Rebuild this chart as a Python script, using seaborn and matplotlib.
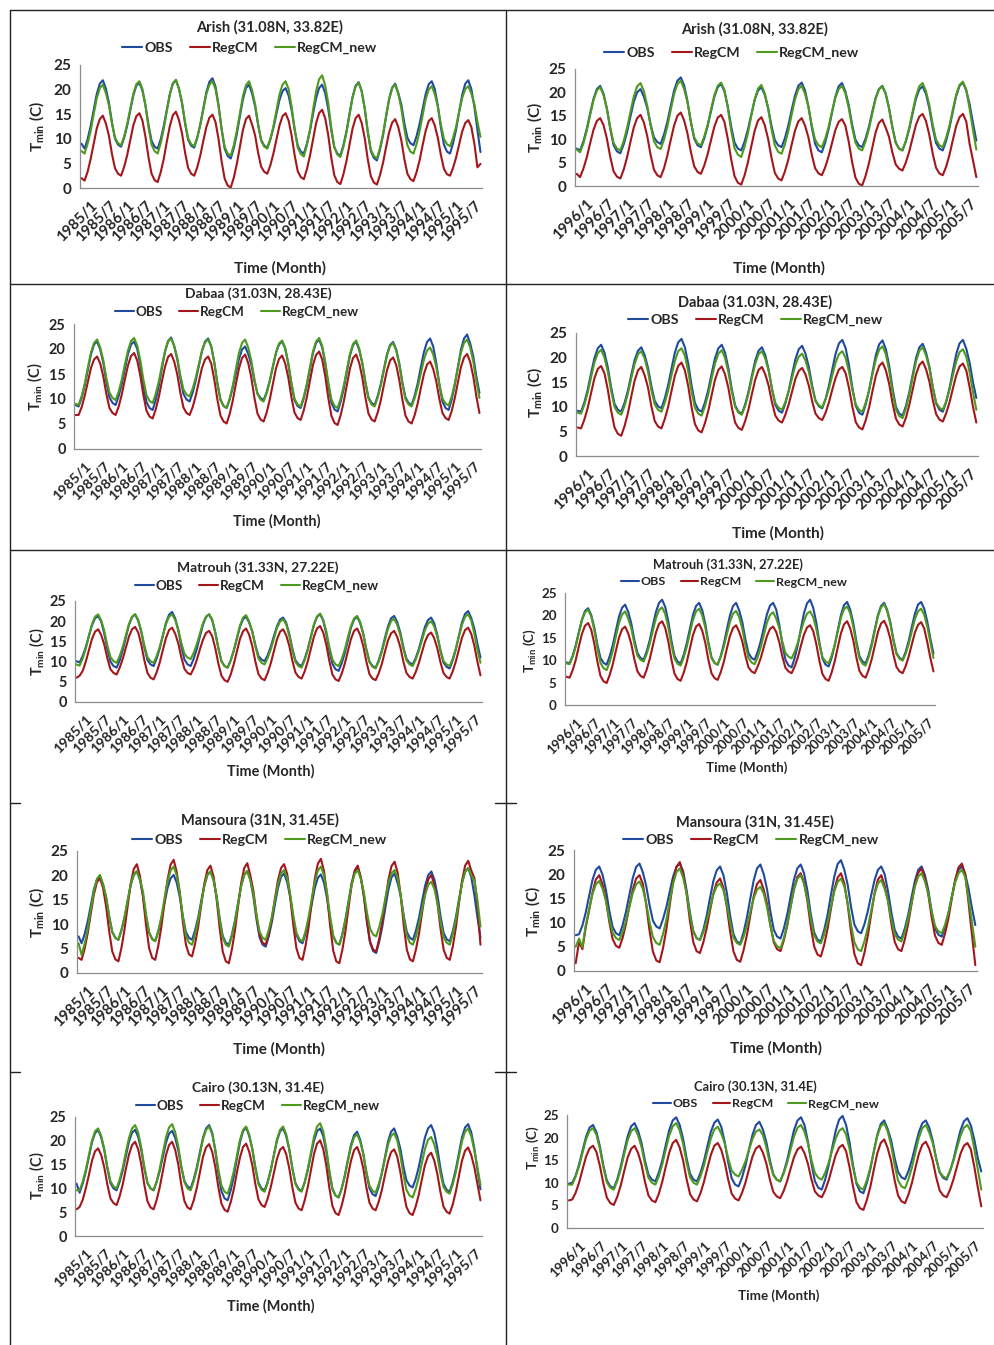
import numpy as np
import matplotlib
matplotlib.use('Agg')
import matplotlib.pyplot as plt
import seaborn as sns
from matplotlib.lines import Line2D

# ---------------------------------------------------------------------------
# Monthly Tmin (C), one row per year (Jan..Dec)
# ---------------------------------------------------------------------------

# Arish 1985-1995
ARISH_L_OBS = [
    9.0, 8.0, 9.9, 12.6, 15.9, 19.1, 21.2, 21.9, 20.2, 17.3, 13.3, 10.0,
    8.8, 8.4, 10.2, 12.7, 15.8, 18.8, 20.8, 21.4, 19.8, 16.8, 12.8, 9.6,
    8.4, 8.0, 9.9, 12.6, 15.9, 19.1, 21.2, 21.9, 20.2, 17.2, 13.1, 9.8,
    8.6, 8.2, 10.2, 12.9, 16.2, 19.5, 21.6, 22.3, 20.6, 16.8, 11.9, 8.0,
    6.5, 6.0, 8.1, 11.0, 14.6, 18.0, 20.3, 21.0, 19.2, 16.6, 12.8, 9.7,
    8.6, 8.2, 9.9, 12.2, 15.1, 17.9, 19.7, 20.3, 18.8, 15.8, 11.8, 8.6,
    7.4, 7.0, 9.0, 11.6, 15.0, 18.2, 20.3, 21.0, 19.3, 16.1, 11.8, 8.3,
    7.0, 6.6, 8.7, 11.5, 15.1, 18.5, 20.8, 21.5, 19.7, 16.1, 11.3, 7.5,
    6.1, 5.6, 7.8, 10.7, 14.5, 18.1, 20.4, 21.2, 19.3, 17.0, 13.2, 10.2,
    9.1, 8.7, 10.5, 13.0, 16.1, 19.1, 21.1, 21.7, 20.1, 16.7, 12.3, 8.8,
    7.4, 7.0, 9.1, 11.9, 15.5, 18.9, 21.2, 21.9, 20.1, 16.5, 11.8, 7.3,
]
ARISH_L_REGCM = [
    2.0, 1.5, 3.3, 5.9, 9.0, 12.1, 14.0, 14.7, 13.1, 10.6, 6.9, 4.0,
    2.9, 2.5, 4.3, 6.7, 9.7, 12.7, 14.6, 15.2, 13.7, 10.4, 6.2, 2.9,
    1.6, 1.2, 3.2, 5.9, 9.4, 12.6, 14.8, 15.5, 13.8, 11.1, 7.2, 4.1,
    2.9, 2.5, 4.2, 6.6, 9.6, 12.4, 14.3, 14.9, 13.4, 9.9, 5.4, 1.9,
    0.5, 0.1, 2.1, 4.9, 8.4, 11.8, 14.0, 14.7, 12.9, 10.7, 7.1, 4.3,
    3.3, 2.9, 4.6, 7.0, 9.9, 12.7, 14.6, 15.2, 13.7, 10.6, 6.6, 3.4,
    2.2, 1.8, 3.8, 6.5, 9.8, 13.1, 15.2, 15.9, 14.2, 10.8, 6.2, 2.6,
    1.2, 0.8, 2.8, 5.5, 8.8, 12.1, 14.2, 14.9, 13.2, 10.1, 5.8, 2.4,
    1.1, 0.7, 2.6, 5.1, 8.3, 11.3, 13.3, 14.0, 12.4, 9.7, 5.9, 2.9,
    1.8, 1.4, 3.2, 5.6, 8.7, 11.6, 13.6, 14.2, 12.7, 10.2, 6.7, 3.9,
    2.8, 2.5, 4.1, 6.2, 8.9, 11.5, 13.2, 13.8, 12.4, 9.0, 4.2, 4.9,
]
ARISH_L_NEW = [
    7.5, 7.0, 9.0, 11.6, 15.0, 18.2, 20.3, 21.0, 19.3, 16.8, 13.1, 10.2,
    9.1, 8.7, 10.5, 13.0, 16.1, 19.1, 21.1, 21.7, 20.1, 16.7, 12.3, 8.8,
    7.5, 7.0, 9.1, 12.0, 15.6, 19.0, 21.3, 22.0, 20.2, 17.4, 13.4, 10.1,
    8.9, 8.5, 10.3, 12.9, 16.0, 19.1, 21.0, 21.7, 20.1, 16.6, 12.0, 8.4,
    7.0, 6.6, 8.7, 11.6, 15.2, 18.7, 20.9, 21.7, 19.9, 17.0, 12.9, 9.6,
    8.4, 8.0, 9.9, 12.5, 15.8, 19.0, 21.0, 21.7, 20.1, 16.5, 11.9, 8.2,
    6.9, 6.4, 8.7, 11.8, 15.8, 19.6, 22.1, 22.9, 20.9, 17.3, 12.3, 8.3,
    6.8, 6.3, 8.4, 11.3, 14.9, 18.4, 20.6, 21.4, 19.6, 16.2, 11.5, 7.8,
    6.5, 6.0, 8.1, 11.0, 14.6, 18.0, 20.3, 21.0, 19.2, 16.2, 12.0, 8.7,
    7.4, 7.0, 8.9, 11.5, 14.8, 18.0, 20.0, 20.7, 19.1, 16.5, 12.9, 10.0,
    8.9, 8.5, 10.2, 12.5, 15.5, 18.3, 20.1, 20.7, 19.2, 17.0, 13.5, 10.4,
]

# Arish 1996-2005
ARISH_R_OBS = [
    8.0, 7.6, 9.5, 12.2, 15.5, 18.6, 20.7, 21.4, 19.7, 16.5, 12.2, 8.7,
    7.4, 7.0, 8.9, 11.5, 14.8, 18.0, 20.0, 20.7, 19.1, 16.7, 13.2, 10.4,
    9.4, 9.0, 11.0, 13.7, 17.1, 20.4, 22.5, 23.2, 21.5, 18.1, 13.7, 10.1,
    8.7, 8.3, 10.2, 12.8, 16.0, 19.1, 21.1, 21.8, 20.2, 17.0, 12.7, 9.3,
    8.0, 7.6, 9.5, 12.1, 15.3, 18.4, 20.4, 21.1, 19.5, 16.7, 12.9, 9.8,
    8.7, 8.3, 10.2, 12.9, 16.2, 19.3, 21.4, 22.1, 20.4, 17.0, 12.6, 9.0,
    7.6, 7.2, 9.3, 12.1, 15.6, 19.0, 21.3, 22.0, 20.2, 17.3, 13.2, 9.9,
    8.7, 8.3, 10.1, 12.6, 15.8, 18.8, 20.7, 21.4, 19.8, 16.7, 12.6, 9.3,
    8.0, 7.6, 9.5, 12.1, 15.4, 18.6, 20.6, 21.3, 19.7, 16.6, 12.5, 9.2,
    8.0, 7.6, 9.6, 12.4, 15.9, 19.2, 21.4, 22.1, 20.4, 17.5, 13.5, 9.7,
]
ARISH_R_REGCM = [
    2.6, 1.9, 3.7, 6.1, 9.1, 12.0, 13.9, 14.5, 13.0, 10.1, 6.2, 3.1,
    2.0, 1.6, 3.5, 6.1, 9.4, 12.5, 14.5, 15.2, 13.6, 10.7, 6.7, 3.5,
    2.3, 1.9, 3.8, 6.5, 9.8, 12.9, 15.0, 15.7, 14.0, 11.2, 7.3, 4.2,
    3.0, 2.6, 4.4, 6.8, 9.8, 12.7, 14.6, 15.2, 13.7, 10.1, 5.7, 2.1,
    0.7, 0.3, 2.3, 5.1, 8.5, 11.8, 14.0, 14.7, 13.0, 10.1, 6.1, 2.8,
    1.6, 1.2, 3.1, 5.6, 8.8, 11.8, 13.8, 14.5, 12.9, 10.4, 6.7, 3.8,
    2.7, 2.3, 4.0, 6.3, 9.1, 11.9, 13.7, 14.3, 12.9, 9.5, 5.2, 1.8,
    0.5, 0.1, 2.1, 4.8, 8.1, 11.4, 13.5, 14.2, 12.5, 10.5, 7.2, 4.6,
    3.7, 3.3, 5.0, 7.3, 10.2, 13.0, 14.8, 15.4, 13.9, 10.9, 7.0, 3.9,
    2.7, 2.3, 4.1, 6.6, 9.8, 12.8, 14.7, 15.4, 13.8, 9.0, 5.5, 1.9,
]
ARISH_R_NEW = [
    7.8, 7.2, 9.1, 11.8, 15.1, 18.3, 20.4, 21.1, 19.4, 16.5, 12.5, 9.2,
    8.0, 7.6, 9.6, 12.4, 15.8, 19.1, 21.3, 22.0, 20.3, 17.2, 13.0, 9.6,
    8.3, 7.9, 9.9, 12.7, 16.2, 19.6, 21.8, 22.5, 20.7, 17.8, 13.7, 10.4,
    9.1, 8.7, 10.6, 13.1, 16.3, 19.4, 21.4, 22.1, 20.5, 16.7, 11.9, 8.1,
    6.7, 6.2, 8.4, 11.3, 15.0, 18.5, 20.8, 21.6, 19.8, 16.6, 12.2, 8.7,
    7.3, 6.9, 8.9, 11.7, 15.2, 18.5, 20.7, 21.4, 19.7, 16.9, 13.0, 9.9,
    8.7, 8.3, 10.1, 12.6, 15.8, 18.8, 20.7, 21.4, 19.8, 16.7, 12.6, 9.3,
    8.0, 7.6, 9.5, 12.1, 15.4, 18.6, 20.6, 21.3, 19.7, 16.6, 12.5, 9.2,
    8.0, 7.6, 9.6, 12.4, 15.8, 19.1, 21.3, 22.0, 20.3, 17.3, 13.2, 9.9,
    8.7, 8.3, 10.3, 12.9, 16.3, 19.5, 21.6, 22.3, 20.6, 16.5, 12.0, 7.8,
]

# Dabaa 1985-1995
DABAA_L_OBS = [
    8.8, 8.5, 10.3, 12.8, 15.9, 18.9, 20.9, 21.5, 19.9, 17.2, 13.4, 10.3,
    9.2, 8.8, 10.6, 13.0, 16.0, 19.0, 20.9, 21.5, 20.0, 16.8, 12.7, 9.4,
    8.2, 7.8, 9.8, 12.6, 16.1, 19.4, 21.6, 22.3, 20.6, 17.9, 14.1, 11.0,
    9.9, 9.5, 11.3, 13.7, 16.7, 19.6, 21.5, 22.1, 20.6, 17.4, 13.2, 9.9,
    8.6, 8.2, 9.9, 12.3, 15.2, 18.0, 19.9, 20.5, 19.0, 16.9, 13.7, 11.1,
    10.2, 9.8, 11.4, 13.7, 16.5, 19.2, 20.9, 21.5, 20.1, 17.0, 13.0, 9.8,
    8.6, 8.2, 10.1, 12.7, 16.0, 19.2, 21.2, 21.9, 20.3, 17.0, 12.7, 9.2,
    7.9, 7.5, 9.5, 12.1, 15.5, 18.7, 20.8, 21.5, 19.8, 17.2, 13.4, 10.3,
    9.2, 8.8, 10.6, 13.0, 16.0, 18.9, 20.8, 21.4, 19.9, 17.1, 13.3, 10.3,
    9.2, 8.8, 10.7, 13.2, 16.4, 19.4, 21.4, 22.1, 20.5, 17.2, 12.9, 9.5,
    8.2, 7.8, 9.9, 12.8, 16.4, 19.9, 22.1, 22.9, 21.1, 18.5, 14.5, 11.2,
]
DABAA_L_REGCM = [
    6.8, 6.8, 8.4, 10.7, 13.5, 16.2, 17.9, 18.5, 17.1, 14.5, 11.0, 8.2,
    7.2, 6.8, 8.5, 10.9, 13.9, 16.7, 18.6, 19.2, 17.7, 14.7, 10.8, 7.7,
    6.5, 6.1, 7.9, 10.4, 13.5, 16.4, 18.4, 19.0, 17.5, 14.9, 11.2, 8.3,
    7.2, 6.8, 8.4, 10.7, 13.5, 16.2, 17.9, 18.5, 17.1, 13.9, 9.9, 6.7,
    5.5, 5.1, 7.0, 9.7, 13.0, 16.1, 18.2, 18.9, 17.2, 14.3, 10.3, 7.1,
    5.9, 5.5, 7.3, 9.9, 13.0, 16.1, 18.0, 18.7, 17.1, 14.3, 10.4, 7.3,
    6.2, 5.8, 7.7, 10.3, 13.6, 16.8, 18.8, 19.5, 17.9, 14.5, 10.1, 6.6,
    5.2, 4.8, 6.8, 9.5, 12.8, 16.1, 18.2, 18.9, 17.2, 14.3, 10.3, 7.1,
    5.9, 5.5, 7.3, 9.7, 12.8, 15.7, 17.7, 18.3, 16.8, 13.8, 9.9, 6.7,
    5.5, 5.1, 6.8, 9.2, 12.2, 15.0, 16.9, 17.5, 16.0, 13.5, 10.0, 7.2,
    6.2, 5.8, 7.6, 10.2, 13.3, 16.4, 18.3, 19.0, 17.4, 14.5, 10.5, 7.2,
]
DABAA_L_NEW = [
    9.0, 8.8, 10.6, 13.1, 16.3, 19.3, 21.2, 21.9, 20.3, 17.8, 14.2, 11.3,
    10.2, 9.8, 11.5, 13.9, 16.9, 19.7, 21.6, 22.2, 20.7, 17.8, 13.9, 10.8,
    9.6, 9.2, 11.0, 13.5, 16.6, 19.5, 21.5, 22.1, 20.6, 18.2, 14.7, 11.9,
    10.9, 10.5, 12.1, 14.3, 17.0, 19.6, 21.3, 21.9, 20.5, 17.2, 13.1, 9.8,
    8.6, 8.2, 10.1, 12.7, 16.0, 19.2, 21.2, 21.9, 20.3, 17.7, 14.0, 11.0,
    9.9, 9.5, 11.2, 13.5, 16.5, 19.3, 21.1, 21.7, 20.2, 17.2, 13.3, 10.1,
    8.9, 8.5, 10.4, 13.0, 16.3, 19.5, 21.5, 22.2, 20.6, 17.4, 13.2, 9.9,
    8.6, 8.2, 10.1, 12.7, 15.9, 19.0, 21.0, 21.7, 20.1, 17.2, 13.3, 10.1,
    8.9, 8.5, 10.3, 12.7, 15.7, 18.7, 20.6, 21.2, 19.7, 16.9, 13.1, 10.0,
    8.9, 8.5, 10.2, 12.4, 15.2, 17.9, 19.7, 20.3, 18.9, 16.4, 12.9, 10.1,
    9.1, 8.7, 10.5, 13.1, 16.2, 19.3, 21.2, 21.9, 20.3, 17.5, 13.5, 10.2,
]

# Dabaa 1996-2005
DABAA_R_OBS = [
    9.2, 9.0, 10.9, 13.5, 16.8, 19.9, 21.9, 22.6, 21.0, 18.0, 13.9, 10.6,
    9.4, 9.0, 10.8, 13.3, 16.5, 19.5, 21.4, 22.1, 20.5, 17.9, 14.2, 11.2,
    10.1, 9.7, 11.7, 14.4, 17.7, 21.0, 23.1, 23.8, 22.1, 18.8, 14.3, 10.8,
    9.4, 9.0, 10.9, 13.5, 16.8, 19.9, 21.9, 22.6, 21.0, 17.8, 13.6, 10.3,
    9.0, 8.6, 10.5, 13.1, 16.3, 19.4, 21.4, 22.1, 20.5, 17.6, 13.6, 10.4,
    9.2, 8.8, 10.7, 13.3, 16.6, 19.7, 21.7, 22.4, 20.8, 18.1, 14.3, 11.2,
    10.1, 9.7, 11.6, 14.3, 17.6, 20.8, 22.9, 23.6, 21.9, 18.4, 13.9, 10.2,
    8.8, 8.4, 10.5, 13.4, 17.0, 20.5, 22.7, 23.5, 21.7, 18.3, 13.7, 10.0,
    8.6, 8.2, 10.2, 13.0, 16.5, 19.9, 22.1, 22.8, 21.0, 18.1, 14.0, 10.7,
    9.4, 9.0, 11.0, 13.8, 17.3, 20.7, 22.9, 23.6, 21.8, 19.0, 15.0, 11.8,
]
DABAA_R_REGCM = [
    5.8, 5.6, 7.4, 9.8, 12.8, 15.8, 17.7, 18.3, 16.8, 13.5, 9.2, 5.8,
    4.5, 4.1, 6.1, 8.7, 12.1, 15.3, 17.4, 18.1, 16.4, 13.9, 10.1, 7.1,
    6.0, 5.6, 7.5, 10.0, 13.2, 16.3, 18.3, 19.0, 17.4, 14.2, 9.9, 6.5,
    5.2, 4.8, 6.7, 9.2, 12.4, 15.5, 17.5, 18.2, 16.6, 13.8, 9.9, 6.8,
    5.7, 5.3, 7.1, 9.5, 12.6, 15.5, 17.5, 18.1, 16.6, 14.3, 10.9, 8.2,
    7.2, 6.8, 8.4, 10.5, 13.1, 15.7, 17.3, 17.9, 16.6, 14.3, 11.1, 8.6,
    7.7, 7.3, 8.8, 10.9, 13.5, 15.9, 17.6, 18.1, 16.8, 13.8, 10.0, 6.9,
    5.8, 5.4, 7.3, 9.9, 13.2, 16.3, 18.3, 19.0, 17.4, 14.6, 10.7, 7.6,
    6.4, 6.0, 7.8, 10.4, 13.5, 16.6, 18.5, 19.2, 17.6, 15.1, 11.4, 8.5,
    7.4, 7.0, 8.7, 10.9, 13.7, 16.4, 18.2, 18.8, 17.4, 14.0, 10.0, 6.8,
]
DABAA_R_NEW = [
    8.8, 8.6, 10.4, 12.9, 16.0, 19.0, 20.9, 21.6, 20.0, 17.1, 13.2, 10.0,
    8.8, 8.4, 10.2, 12.7, 15.8, 18.7, 20.7, 21.3, 19.8, 17.1, 13.4, 10.5,
    9.4, 9.0, 10.8, 13.3, 16.4, 19.3, 21.3, 21.9, 20.4, 17.2, 13.1, 9.8,
    8.6, 8.2, 10.1, 12.6, 15.8, 18.8, 20.8, 21.5, 19.9, 17.0, 13.1, 10.0,
    8.8, 8.4, 10.2, 12.7, 15.8, 18.7, 20.7, 21.3, 19.8, 17.3, 13.7, 10.8,
    9.8, 9.4, 11.0, 13.2, 15.9, 18.5, 20.2, 20.8, 19.4, 17.1, 13.8, 11.2,
    10.3, 9.9, 11.5, 13.7, 16.4, 19.0, 20.7, 21.3, 19.9, 17.1, 13.4, 10.5,
    9.4, 9.0, 10.9, 13.4, 16.6, 19.6, 21.6, 22.3, 20.7, 17.3, 13.0, 9.5,
    8.1, 7.7, 9.7, 12.5, 15.9, 19.2, 21.4, 22.1, 20.4, 17.8, 14.0, 10.9,
    9.8, 9.4, 11.1, 13.5, 16.4, 19.2, 21.1, 21.7, 20.2, 17.0, 13.0, 9.4,
]

# Matrouh 1985-1995
MATROUH_L_OBS = [
    10.1, 9.8, 11.4, 13.6, 16.4, 19.0, 20.7, 21.3, 19.9, 16.9, 13.1, 10.0,
    8.9, 8.5, 10.3, 12.9, 16.0, 19.1, 21.0, 21.7, 20.1, 17.3, 13.5, 10.4,
    9.3, 8.9, 10.8, 13.3, 16.5, 19.6, 21.6, 22.3, 20.7, 17.7, 13.7, 10.5,
    9.3, 8.9, 10.7, 13.1, 16.2, 19.1, 21.1, 21.7, 20.2, 17.2, 13.3, 10.1,
    8.9, 8.5, 10.3, 12.7, 15.7, 18.6, 20.5, 21.1, 19.6, 17.4, 14.1, 11.4,
    10.5, 10.1, 11.6, 13.7, 16.3, 18.7, 20.4, 20.9, 19.6, 16.8, 13.2, 10.3,
    9.3, 8.9, 10.7, 13.1, 16.2, 19.1, 21.1, 21.7, 20.2, 16.9, 12.7, 9.4,
    8.1, 7.7, 9.6, 12.1, 15.3, 18.4, 20.4, 21.1, 19.5, 16.8, 13.0, 10.0,
    8.9, 8.5, 10.3, 12.7, 15.8, 18.7, 20.7, 21.3, 19.8, 17.2, 13.6, 10.7,
    9.7, 9.3, 10.9, 13.1, 15.9, 18.6, 20.3, 20.9, 19.5, 16.6, 12.8, 9.8,
    8.7, 8.3, 10.3, 13.0, 16.4, 19.7, 21.8, 22.5, 20.8, 18.2, 14.5, 11.0,
]
MATROUH_L_REGCM = [
    6.0, 6.5, 7.7, 10.0, 12.8, 15.6, 17.4, 18.0, 16.6, 14.2, 10.8, 8.1,
    7.2, 6.8, 8.5, 10.7, 13.5, 16.2, 18.0, 18.6, 17.2, 14.2, 10.3, 7.2,
    6.0, 5.6, 7.4, 9.8, 12.9, 15.8, 17.8, 18.4, 16.9, 14.5, 11.0, 8.2,
    7.2, 6.8, 8.3, 10.4, 13.0, 15.4, 17.1, 17.6, 16.3, 13.3, 9.5, 6.5,
    5.4, 5.0, 6.8, 9.4, 12.5, 15.6, 17.5, 18.2, 16.6, 13.8, 10.0, 6.9,
    5.8, 5.4, 7.2, 9.6, 12.6, 15.5, 17.4, 18.0, 16.5, 13.9, 10.2, 7.3,
    6.2, 5.8, 7.6, 10.1, 13.2, 16.2, 18.2, 18.8, 17.2, 14.2, 10.1, 6.8,
    5.6, 5.2, 7.0, 9.5, 12.6, 15.6, 17.6, 18.2, 16.6, 13.8, 10.0, 6.9,
    5.8, 5.4, 7.1, 9.4, 12.4, 15.2, 17.0, 17.6, 16.1, 13.6, 10.0, 7.2,
    6.2, 5.8, 7.4, 9.6, 12.3, 14.9, 16.6, 17.2, 15.8, 13.3, 9.9, 7.2,
    6.2, 5.8, 7.6, 10.0, 13.0, 15.9, 17.8, 18.4, 16.9, 14.0, 10.0, 6.6,
]
MATROUH_L_NEW = [
    9.3, 9.0, 10.8, 13.2, 16.2, 19.2, 21.1, 21.7, 20.2, 17.6, 14.0, 11.1,
    10.1, 9.7, 11.4, 13.7, 16.5, 19.3, 21.1, 21.7, 20.3, 17.6, 14.0, 11.1,
    10.1, 9.7, 11.4, 13.7, 16.5, 19.3, 21.1, 21.7, 20.3, 17.9, 14.6, 11.9,
    11.0, 10.6, 12.2, 14.3, 16.9, 19.5, 21.1, 21.7, 20.4, 17.2, 13.3, 10.1,
    8.9, 8.5, 10.3, 12.8, 15.9, 18.9, 20.9, 21.5, 19.9, 17.4, 13.7, 10.8,
    9.7, 9.3, 10.9, 13.0, 15.7, 18.3, 19.9, 20.5, 19.2, 16.4, 12.8, 9.9,
    8.9, 8.5, 10.4, 12.9, 16.1, 19.2, 21.2, 21.9, 20.3, 17.5, 13.6, 10.5,
    9.3, 8.9, 10.6, 13.0, 16.0, 18.8, 20.7, 21.3, 19.8, 16.9, 13.0, 9.9,
    8.7, 8.3, 10.0, 12.4, 15.3, 18.1, 20.0, 20.6, 19.1, 16.6, 13.1, 10.3,
    9.3, 8.9, 10.5, 12.6, 15.2, 17.8, 19.4, 20.0, 18.7, 16.2, 12.9, 10.2,
    9.3, 8.9, 10.7, 13.1, 16.2, 19.1, 21.1, 21.7, 20.2, 17.0, 13.0, 9.7,
]

# Matrouh 1996-2005
MATROUH_R_OBS = [
    9.5, 9.3, 11.0, 13.4, 16.3, 19.1, 21.0, 21.6, 20.1, 17.3, 13.5, 10.5,
    9.4, 9.0, 10.9, 13.4, 16.6, 19.7, 21.7, 22.4, 20.8, 18.2, 14.5, 11.6,
    10.5, 10.1, 12.0, 14.5, 17.7, 20.8, 22.8, 23.5, 21.9, 18.7, 14.4, 11.0,
    9.7, 9.3, 11.2, 13.8, 17.0, 20.1, 22.1, 22.8, 21.2, 18.1, 14.0, 10.7,
    9.4, 9.0, 10.9, 13.6, 16.9, 20.0, 22.1, 22.8, 21.1, 18.5, 14.7, 11.6,
    10.5, 10.1, 11.9, 14.3, 17.3, 20.3, 22.2, 22.8, 21.3, 17.9, 13.6, 10.1,
    8.8, 8.4, 10.5, 13.4, 17.0, 20.5, 22.7, 23.5, 21.7, 18.4, 14.0, 10.4,
    9.0, 8.6, 10.6, 13.4, 16.8, 20.1, 22.3, 23.0, 21.3, 18.3, 14.2, 10.9,
    9.7, 9.3, 11.2, 13.8, 17.0, 20.1, 22.1, 22.8, 21.2, 18.5, 14.7, 11.6,
    10.5, 10.1, 11.9, 14.4, 17.5, 20.4, 22.4, 23.0, 21.5, 18.6, 14.8, 11.5,
]
MATROUH_R_REGCM = [
    6.3, 6.1, 7.8, 10.1, 13.1, 15.9, 17.7, 18.3, 16.8, 13.7, 9.7, 6.5,
    5.3, 4.9, 6.7, 9.1, 12.1, 15.0, 16.9, 17.5, 16.0, 13.6, 10.2, 7.5,
    6.5, 6.1, 7.9, 10.3, 13.3, 16.2, 18.1, 18.7, 17.2, 14.2, 10.2, 7.0,
    5.8, 5.4, 7.2, 9.6, 12.6, 15.6, 17.5, 18.1, 16.6, 13.9, 10.1, 7.1,
    6.0, 5.6, 7.3, 9.6, 12.6, 15.4, 17.2, 17.8, 16.3, 14.2, 11.0, 8.4,
    7.5, 7.1, 8.6, 10.5, 13.0, 15.4, 17.0, 17.5, 16.3, 14.0, 10.8, 8.3,
    7.5, 7.1, 8.6, 10.6, 13.2, 15.7, 17.3, 17.8, 16.5, 13.6, 9.9, 6.9,
    5.8, 5.4, 7.3, 9.8, 13.0, 16.0, 18.0, 18.7, 17.1, 14.4, 10.6, 7.6,
    6.5, 6.1, 7.9, 10.3, 13.3, 16.3, 18.2, 18.8, 17.3, 14.8, 11.3, 8.5,
    7.5, 7.1, 8.7, 10.9, 13.6, 16.2, 17.9, 18.5, 17.1, 14.0, 10.5, 7.5,
]
MATROUH_R_NEW = [
    9.3, 9.1, 10.8, 13.1, 16.1, 18.9, 20.7, 21.3, 19.8, 16.7, 12.7, 9.4,
    8.2, 7.8, 9.6, 12.1, 15.3, 18.3, 20.2, 20.9, 19.3, 17.1, 13.7, 11.0,
    10.1, 9.7, 11.4, 13.7, 16.6, 19.4, 21.2, 21.8, 20.3, 17.4, 13.5, 10.4,
    9.2, 8.8, 10.6, 13.0, 16.0, 19.0, 20.9, 21.5, 20.0, 17.3, 13.5, 10.5,
    9.4, 9.0, 10.7, 13.0, 15.8, 18.6, 20.4, 21.0, 19.6, 17.0, 13.4, 10.5,
    9.5, 9.1, 10.7, 12.9, 15.7, 18.4, 20.1, 20.7, 19.3, 17.2, 14.1, 11.6,
    10.8, 10.4, 11.9, 13.9, 16.4, 18.8, 20.4, 20.9, 19.6, 17.0, 13.5, 10.7,
    9.7, 9.3, 11.1, 13.5, 16.5, 19.5, 21.4, 22.0, 20.5, 17.5, 13.6, 10.4,
    9.2, 8.8, 10.7, 13.3, 16.6, 19.8, 21.8, 22.5, 20.9, 18.2, 14.4, 11.4,
    10.3, 9.9, 11.5, 13.7, 16.5, 19.2, 20.9, 21.5, 20.1, 17.5, 14.0, 10.5,
]

# Mansoura 1985-1995
MANSOURA_L_OBS = [
    7.5, 6.1, 8.0, 10.6, 13.9, 17.1, 19.1, 19.8, 18.2, 15.4, 11.5, 8.4,
    7.2, 6.8, 8.8, 11.4, 14.8, 18.0, 20.1, 20.8, 19.1, 16.0, 11.7, 8.3,
    7.0, 6.6, 8.5, 11.1, 14.3, 17.4, 19.4, 20.1, 18.5, 15.6, 11.6, 8.4,
    7.2, 6.8, 8.8, 11.4, 14.8, 18.0, 20.1, 20.8, 19.1, 15.7, 11.2, 7.6,
    6.2, 5.8, 7.9, 10.8, 14.4, 17.9, 20.1, 20.9, 19.1, 15.6, 11.0, 7.3,
    5.8, 5.4, 7.5, 10.4, 14.0, 17.4, 19.7, 20.4, 18.6, 15.5, 11.2, 7.8,
    6.5, 6.1, 8.1, 10.8, 14.1, 17.4, 19.5, 20.2, 18.5, 15.3, 11.0, 7.5,
    6.2, 5.8, 8.0, 11.0, 14.7, 18.4, 20.7, 21.5, 19.6, 15.6, 10.4, 6.2,
    4.5, 4.1, 6.4, 9.5, 13.4, 17.1, 19.6, 20.4, 18.4, 15.8, 11.7, 8.4,
    7.2, 6.8, 8.8, 11.4, 14.8, 18.0, 20.1, 20.8, 19.1, 15.9, 11.6, 8.2,
    6.9, 6.5, 8.6, 11.5, 15.1, 18.5, 20.8, 21.5, 19.7, 16.0, 11.5, 7.2,
]
MANSOURA_L_REGCM = [
    3.1, 2.7, 5.0, 8.2, 12.2, 16.1, 18.6, 19.4, 17.4, 13.6, 8.5, 4.4,
    2.8, 2.4, 5.2, 9.0, 13.7, 18.3, 21.3, 22.3, 19.9, 15.6, 9.8, 5.1,
    3.1, 2.7, 5.6, 9.5, 14.4, 19.1, 22.2, 23.2, 20.7, 16.5, 10.5, 5.8,
    3.8, 3.4, 6.0, 9.5, 14.0, 18.3, 21.1, 22.0, 19.8, 15.2, 9.2, 4.4,
    2.4, 2.0, 4.9, 8.8, 13.7, 18.4, 21.5, 22.5, 20.0, 16.8, 11.8, 7.8,
    6.2, 5.8, 8.1, 11.2, 15.2, 19.0, 21.5, 22.3, 20.3, 15.6, 9.8, 5.1,
    3.1, 2.7, 5.6, 9.5, 14.5, 19.3, 22.4, 23.4, 20.9, 16.1, 9.7, 4.6,
    2.4, 2.0, 4.8, 8.6, 13.4, 18.0, 21.0, 22.0, 19.6, 16.0, 10.7, 6.5,
    4.8, 4.4, 7.0, 10.5, 14.9, 19.1, 21.9, 22.8, 20.6, 15.9, 9.7, 4.8,
    2.8, 2.4, 4.9, 8.2, 12.5, 16.6, 19.2, 20.1, 18.0, 14.2, 9.0, 4.8,
    3.1, 2.7, 5.5, 9.4, 14.3, 18.9, 22.0, 23.0, 21.0, 19.5, 14.0, 5.8,
]
MANSOURA_L_NEW = [
    6.1, 3.7, 6.0, 9.1, 13.0, 16.8, 19.3, 20.1, 18.1, 15.6, 11.6, 8.4,
    7.2, 6.8, 8.8, 11.5, 14.8, 18.1, 20.2, 20.9, 19.2, 16.7, 12.0, 8.3,
    6.9, 6.5, 8.6, 11.5, 15.2, 18.7, 21.0, 21.8, 20.0, 16.4, 11.6, 7.7,
    6.2, 5.8, 7.9, 10.8, 14.4, 17.8, 20.1, 20.8, 19.0, 15.6, 10.9, 7.2,
    5.8, 5.4, 7.6, 10.5, 14.2, 17.8, 20.1, 20.9, 19.0, 16.1, 11.9, 8.5,
    7.2, 6.8, 8.8, 11.5, 14.9, 18.2, 20.4, 21.1, 19.4, 16.1, 11.8, 8.3,
    6.9, 6.5, 8.6, 11.5, 15.2, 18.7, 21.0, 21.8, 20.0, 16.4, 11.6, 7.7,
    6.2, 5.8, 7.9, 10.9, 14.5, 18.0, 20.3, 21.1, 19.3, 16.5, 12.4, 9.1,
    7.9, 7.5, 9.4, 12.0, 15.3, 18.4, 20.4, 21.1, 19.5, 15.9, 11.3, 7.6,
    6.2, 5.8, 7.6, 10.1, 13.2, 16.1, 18.1, 18.7, 17.2, 14.3, 10.4, 7.3,
    6.2, 5.8, 8.0, 11.0, 14.7, 18.4, 20.7, 21.5, 20.0, 19.0, 15.0, 9.5,
]

# Mansoura 1996-2005
MANSOURA_R_OBS = [
    7.4, 7.6, 9.4, 12.1, 15.5, 18.8, 20.9, 21.6, 19.9, 16.8, 12.5, 9.1,
    7.8, 7.4, 9.5, 12.3, 15.8, 19.2, 21.5, 22.2, 20.4, 17.6, 13.6, 10.4,
    9.2, 8.8, 10.7, 13.2, 16.4, 19.5, 21.5, 22.2, 20.6, 16.8, 12.1, 8.3,
    6.8, 6.4, 8.5, 11.4, 15.1, 18.6, 20.8, 21.6, 19.8, 16.2, 11.4, 7.6,
    6.1, 5.7, 8.0, 11.1, 15.0, 18.7, 21.2, 22.0, 20.0, 16.8, 12.2, 8.5,
    7.1, 6.7, 8.8, 11.7, 15.4, 18.9, 21.2, 22.0, 20.2, 16.6, 11.8, 8.0,
    6.5, 6.1, 8.5, 11.6, 15.7, 19.5, 22.1, 22.9, 20.9, 17.8, 13.2, 9.6,
    8.2, 7.8, 9.7, 12.4, 15.7, 18.8, 20.9, 21.6, 20.0, 16.5, 12.1, 8.5,
    7.1, 6.7, 8.8, 11.6, 15.2, 18.6, 20.9, 21.6, 19.8, 16.7, 12.3, 8.8,
    7.5, 7.1, 9.1, 11.9, 15.4, 18.7, 20.9, 21.6, 20.0, 17.0, 13.0, 9.5,
]
MANSOURA_R_REGCM = [
    1.6, 6.0, 4.5, 9.0, 12.5, 16.2, 18.9, 19.8, 17.9, 14.8, 10.2, 6.6,
    5.2, 4.8, 6.9, 9.8, 13.4, 16.8, 19.1, 19.8, 18.0, 13.7, 8.3, 4.0,
    2.2, 1.8, 4.7, 8.6, 13.6, 18.4, 21.5, 22.5, 20.0, 16.1, 10.5, 6.0,
    4.1, 3.7, 5.9, 8.8, 12.5, 16.0, 18.3, 19.1, 17.2, 13.3, 8.1, 4.0,
    2.3, 1.9, 4.3, 7.5, 11.5, 15.4, 18.0, 18.8, 16.8, 13.8, 9.4, 5.9,
    4.5, 4.1, 6.4, 9.4, 13.3, 17.0, 19.4, 20.2, 18.3, 14.4, 9.2, 5.1,
    3.4, 3.0, 5.4, 8.7, 12.8, 16.8, 19.3, 20.2, 18.1, 13.7, 8.0, 3.5,
    1.6, 1.2, 3.8, 7.3, 11.8, 16.1, 18.9, 19.8, 17.6, 14.5, 9.8, 6.0,
    4.5, 4.1, 6.5, 9.7, 13.8, 17.8, 20.3, 21.2, 19.1, 15.8, 11.1, 7.3,
    5.8, 5.4, 7.8, 10.9, 15.0, 18.8, 21.4, 22.2, 20.0, 14.0, 7.5, 1.2,
]
MANSOURA_R_NEW = [
    5.0, 6.7, 4.9, 9.5, 12.8, 15.9, 17.9, 18.6, 17.0, 14.5, 10.8, 7.9,
    6.8, 6.4, 8.1, 10.4, 13.3, 16.1, 17.9, 18.5, 17.0, 14.0, 10.1, 7.0,
    5.8, 5.4, 7.6, 10.6, 14.4, 18.0, 20.4, 21.2, 19.3, 16.2, 11.7, 8.2,
    6.8, 6.4, 8.0, 10.3, 13.1, 15.8, 17.5, 18.1, 16.7, 13.8, 10.0, 6.9,
    5.8, 5.4, 7.1, 9.4, 12.2, 15.0, 16.8, 17.4, 16.0, 13.1, 9.3, 6.2,
    5.1, 4.7, 6.8, 9.7, 13.3, 16.8, 19.0, 19.8, 18.0, 15.0, 10.8, 7.4,
    6.1, 5.7, 7.6, 10.1, 13.3, 16.4, 18.4, 19.1, 17.5, 14.0, 9.5, 5.9,
    4.5, 4.1, 6.2, 9.0, 12.5, 15.9, 18.1, 18.8, 17.0, 14.5, 10.7, 7.6,
    6.5, 6.1, 8.1, 10.8, 14.1, 17.4, 19.5, 20.2, 18.5, 16.0, 12.3, 9.3,
    8.2, 7.8, 9.6, 12.1, 15.3, 18.3, 20.2, 20.9, 19.4, 15.0, 10.0, 5.0,
]

# Cairo 1985-1995
CAIRO_L_OBS = [
    11.0, 9.1, 11.0, 13.5, 16.6, 19.7, 21.6, 22.3, 20.7, 18.0, 14.2, 11.1,
    10.0, 9.6, 11.4, 13.8, 16.8, 19.8, 21.7, 22.3, 20.8, 18.0, 14.2, 11.1,
    10.0, 9.6, 11.4, 13.7, 16.7, 19.6, 21.5, 22.1, 20.6, 18.0, 14.4, 11.5,
    10.4, 10.0, 11.9, 14.4, 17.6, 20.6, 22.6, 23.3, 21.7, 17.9, 13.2, 9.4,
    7.9, 7.5, 9.6, 12.5, 16.2, 19.7, 22.0, 22.8, 21.0, 18.3, 14.4, 11.2,
    10.0, 9.6, 11.4, 13.9, 17.0, 20.0, 22.0, 22.6, 21.0, 18.1, 14.2, 11.1,
    9.9, 9.5, 11.3, 13.8, 17.0, 20.0, 22.0, 22.6, 21.0, 17.7, 13.3, 9.8,
    8.5, 8.1, 10.0, 12.7, 16.0, 19.1, 21.2, 21.9, 20.2, 17.3, 13.3, 10.0,
    8.8, 8.4, 10.4, 13.1, 16.5, 19.8, 21.9, 22.6, 20.9, 18.4, 14.7, 11.7,
    10.6, 10.2, 12.0, 14.5, 17.7, 20.7, 22.6, 23.3, 21.7, 18.5, 14.3, 11.0,
    9.7, 9.3, 11.3, 14.0, 17.4, 20.7, 22.8, 23.5, 21.8, 18.5, 14.0, 9.8,
]
CAIRO_L_REGCM = [
    5.6, 6.1, 7.6, 10.0, 12.8, 15.8, 17.8, 18.4, 17.0, 14.4, 10.8, 7.9,
    6.9, 6.5, 8.4, 10.9, 14.1, 17.1, 19.1, 19.8, 18.2, 15.0, 10.7, 7.3,
    6.0, 5.6, 7.6, 10.3, 13.7, 17.0, 19.1, 19.8, 18.1, 15.0, 10.7, 7.3,
    6.0, 5.6, 7.5, 10.1, 13.4, 16.6, 18.6, 19.3, 17.7, 14.5, 10.2, 6.8,
    5.5, 5.1, 7.1, 9.8, 13.3, 16.5, 18.7, 19.4, 17.7, 14.9, 10.9, 7.7,
    6.5, 6.1, 7.9, 10.3, 13.3, 16.2, 18.1, 18.7, 17.2, 14.2, 10.2, 7.0,
    5.8, 5.4, 7.5, 10.3, 13.8, 17.2, 19.4, 20.1, 18.3, 14.8, 10.1, 6.3,
    4.8, 4.4, 6.4, 9.1, 12.6, 15.8, 18.0, 18.7, 17.0, 14.2, 10.2, 7.0,
    5.8, 5.4, 7.2, 9.6, 12.7, 15.6, 17.6, 18.2, 16.7, 13.5, 9.4, 6.1,
    4.8, 4.4, 6.2, 8.7, 11.9, 14.9, 16.8, 17.5, 15.9, 13.1, 9.3, 6.2,
    5.1, 4.7, 6.6, 9.3, 12.6, 15.8, 17.9, 18.6, 17.0, 14.5, 11.0, 7.5,
]
CAIRO_L_NEW = [
    9.6, 9.6, 11.4, 13.9, 17.0, 20.0, 22.0, 22.6, 21.0, 18.3, 14.5, 11.5,
    10.4, 10.0, 11.9, 14.4, 17.6, 20.6, 22.6, 23.3, 21.7, 18.6, 14.5, 11.2,
    10.0, 9.6, 11.5, 14.2, 17.5, 20.7, 22.8, 23.5, 21.8, 18.8, 14.6, 11.3,
    10.0, 9.6, 11.5, 14.0, 17.2, 20.3, 22.3, 23.0, 21.4, 18.2, 14.0, 10.6,
    9.3, 8.9, 10.9, 13.6, 16.9, 20.2, 22.3, 23.0, 21.3, 18.3, 14.2, 10.9,
    9.7, 9.3, 11.2, 13.8, 17.1, 20.3, 22.3, 23.0, 21.4, 18.3, 14.2, 10.9,
    9.7, 9.3, 11.3, 14.1, 17.5, 20.8, 23.0, 23.7, 22.0, 18.4, 13.7, 10.0,
    8.5, 8.1, 10.0, 12.5, 15.7, 18.7, 20.7, 21.4, 19.8, 17.2, 13.5, 10.6,
    9.5, 9.1, 10.9, 13.2, 16.2, 19.1, 21.0, 21.6, 20.1, 17.0, 13.0, 9.7,
    8.5, 8.1, 9.9, 12.3, 15.3, 18.3, 20.2, 20.8, 19.3, 16.8, 13.2, 10.3,
    9.3, 8.9, 10.8, 13.4, 16.7, 19.9, 21.9, 22.6, 21.0, 18.0, 14.5, 10.7,
]

# Cairo 1996-2005
CAIRO_R_OBS = [
    9.8, 10.0, 11.6, 14.1, 17.2, 20.2, 22.2, 22.8, 21.2, 18.0, 13.8, 10.5,
    9.2, 8.8, 10.8, 13.6, 17.0, 20.3, 22.5, 23.2, 21.5, 18.8, 14.9, 11.8,
    10.7, 10.3, 12.3, 15.0, 18.4, 21.7, 23.8, 24.5, 22.8, 19.7, 15.4, 12.0,
    10.7, 10.3, 12.2, 14.8, 18.1, 21.3, 23.3, 24.0, 22.4, 19.0, 14.5, 11.0,
    9.6, 9.2, 11.2, 13.9, 17.4, 20.6, 22.8, 23.5, 21.8, 19.0, 15.1, 11.9,
    10.7, 10.3, 12.3, 15.0, 18.4, 21.7, 23.8, 24.5, 22.8, 19.1, 14.3, 10.4,
    8.9, 8.5, 10.8, 13.9, 17.8, 21.5, 24.0, 24.8, 22.8, 19.0, 13.9, 9.8,
    8.1, 7.7, 10.0, 13.0, 16.9, 20.6, 23.0, 23.8, 21.9, 19.4, 15.5, 12.4,
    11.2, 10.8, 12.6, 15.1, 18.2, 21.2, 23.2, 23.8, 22.2, 19.3, 15.4, 12.3,
    11.1, 10.7, 12.6, 15.2, 18.5, 21.6, 23.6, 24.3, 22.7, 19.5, 15.5, 12.5,
]
CAIRO_R_REGCM = [
    6.1, 6.3, 7.8, 10.1, 13.0, 15.8, 17.6, 18.2, 16.8, 13.7, 9.8, 6.7,
    5.5, 5.1, 6.9, 9.4, 12.6, 15.6, 17.5, 18.2, 16.6, 14.0, 10.2, 7.2,
    6.1, 5.7, 7.6, 10.3, 13.6, 16.7, 18.8, 19.5, 17.8, 14.9, 10.8, 7.5,
    6.3, 5.9, 7.7, 10.2, 13.3, 16.2, 18.2, 18.8, 17.3, 14.5, 10.7, 7.6,
    6.5, 6.1, 7.8, 10.1, 13.0, 15.8, 17.6, 18.2, 16.7, 14.3, 10.8, 8.0,
    7.0, 6.6, 8.2, 10.4, 13.1, 15.7, 17.4, 18.0, 16.6, 14.2, 10.8, 8.1,
    7.2, 6.8, 8.4, 10.6, 13.4, 16.1, 17.8, 18.4, 17.0, 13.5, 9.2, 5.7,
    4.4, 4.0, 6.2, 9.1, 12.9, 16.5, 18.8, 19.6, 17.7, 14.8, 10.6, 7.2,
    5.9, 5.5, 7.4, 10.0, 13.3, 16.4, 18.4, 19.1, 17.5, 14.9, 11.2, 8.3,
    7.2, 6.8, 8.5, 10.8, 13.6, 16.4, 18.2, 18.8, 17.4, 13.5, 9.0, 4.8,
]
CAIRO_R_NEW = [
    9.6, 9.6, 11.4, 13.7, 16.7, 19.6, 21.5, 22.1, 20.6, 17.5, 13.4, 10.1,
    8.9, 8.5, 10.4, 13.0, 16.3, 19.4, 21.4, 22.1, 20.5, 17.9, 14.1, 11.1,
    10.0, 9.6, 11.5, 14.1, 17.4, 20.5, 22.5, 23.2, 21.6, 18.6, 14.5, 11.2,
    10.0, 9.6, 11.4, 13.8, 16.9, 19.8, 21.8, 22.4, 20.9, 18.7, 15.4, 12.7,
    11.8, 11.4, 12.9, 14.8, 17.3, 19.7, 21.3, 21.8, 20.6, 17.9, 14.4, 11.7,
    10.7, 10.3, 12.1, 14.4, 17.4, 20.3, 22.2, 22.8, 21.3, 18.7, 15.1, 12.2,
    11.1, 10.7, 12.3, 14.5, 17.2, 19.8, 21.5, 22.1, 20.7, 17.5, 13.4, 10.1,
    8.9, 8.5, 10.6, 13.4, 16.9, 20.3, 22.5, 23.2, 21.4, 18.3, 14.0, 10.5,
    9.2, 8.8, 10.8, 13.4, 16.8, 20.0, 22.1, 22.8, 21.1, 18.8, 15.2, 12.4,
    11.4, 11.0, 12.7, 14.9, 17.7, 20.4, 22.2, 22.8, 21.4, 17.5, 13.0, 8.5,
]

TICKS_1985_1995 = [
    '1985/1', '1985/7', '1986/1', '1986/7', '1987/1', '1987/7', '1988/1', '1988/7',
    '1989/1', '1989/7', '1990/1', '1990/7', '1991/1', '1991/7', '1992/1', '1992/7',
    '1993/1', '1993/7', '1994/1', '1994/7', '1995/1', '1995/7',
]
TICKS_1996_2005 = [
    '1996/1', '1996/7', '1997/1', '1997/7', '1998/1', '1998/7', '1999/1', '1999/7',
    '2000/1', '2000/7', '2001/1', '2001/7', '2002/1', '2002/7', '2003/1', '2003/7',
    '2004/1', '2004/7', '2005/1', '2005/7',
]

SERIES_NAMES = ['OBS', 'RegCM', 'RegCM_new']
COLORS = {'OBS': '#1F4A9E', 'RegCM': '#A3161B', 'RegCM_new': '#4E9A1E'}

PANELS = [
    ('Arish (31.08N, 33.82E)', ARISH_L_OBS, ARISH_L_REGCM, ARISH_L_NEW, TICKS_1985_1995),
    ('Arish (31.08N, 33.82E)', ARISH_R_OBS, ARISH_R_REGCM, ARISH_R_NEW, TICKS_1996_2005),
    ('Dabaa (31.03N, 28.43E)', DABAA_L_OBS, DABAA_L_REGCM, DABAA_L_NEW, TICKS_1985_1995),
    ('Dabaa (31.03N, 28.43E)', DABAA_R_OBS, DABAA_R_REGCM, DABAA_R_NEW, TICKS_1996_2005),
    ('Matrouh (31.33N, 27.22E)', MATROUH_L_OBS, MATROUH_L_REGCM, MATROUH_L_NEW, TICKS_1985_1995),
    ('Matrouh (31.33N, 27.22E)', MATROUH_R_OBS, MATROUH_R_REGCM, MATROUH_R_NEW, TICKS_1996_2005),
    ('Mansoura (31N, 31.45E)', MANSOURA_L_OBS, MANSOURA_L_REGCM, MANSOURA_L_NEW, TICKS_1985_1995),
    ('Mansoura (31N, 31.45E)', MANSOURA_R_OBS, MANSOURA_R_REGCM, MANSOURA_R_NEW, TICKS_1996_2005),
    ('Cairo (30.13N, 31.4E)', CAIRO_L_OBS, CAIRO_L_REGCM, CAIRO_L_NEW, TICKS_1985_1995),
    ('Cairo (30.13N, 31.4E)', CAIRO_R_OBS, CAIRO_R_REGCM, CAIRO_R_NEW, TICKS_1996_2005),
]

# pixel layout of each panel (figure is 994 x 1345 px)
FIG_W, FIG_H = 994, 1345
LAYOUT = [
    dict(box=(80, 482, 65, 188), title=(270, 27), legend=(250, 48), xlabel=(280, 268), ylabel=(37, 127), s=1.0),
    dict(box=(575, 978, 69, 186), title=(755, 29), legend=(732, 53), xlabel=(779, 268), ylabel=(535, 128), s=1.0),
    dict(box=(74, 481, 324, 449), title=(258, 294), legend=(237, 312), xlabel=(277, 521), ylabel=(35, 387), s=0.95),
    dict(box=(576, 978, 333, 456), title=(755, 302), legend=(756, 320), xlabel=(778, 533), ylabel=(535, 393), s=1.0),
    dict(box=(75, 482, 601, 702), title=(258, 568), legend=(257, 586), xlabel=(271, 771), ylabel=(37, 652), s=0.95),
    dict(box=(565, 935, 593, 705), title=(728, 565), legend=(734, 582), xlabel=(747, 768), ylabel=(530, 651), s=0.88),
    dict(box=(77, 482, 851, 973), title=(260, 820), legend=(260, 840), xlabel=(279, 1049), ylabel=(37, 913), s=1.0),
    dict(box=(574, 977, 850, 971), title=(755, 822), legend=(751, 840), xlabel=(776, 1048), ylabel=(533, 912), s=1.0),
    dict(box=(75, 482, 1117, 1236), title=(258, 1088), legend=(258, 1106), xlabel=(271, 1306), ylabel=(37, 1176), s=0.95),
    dict(box=(567, 983, 1115, 1228), title=(755, 1087), legend=(766, 1104), xlabel=(779, 1296), ylabel=(533, 1148), s=0.88),
]

sns.set_style('white')
plt.rcParams['font.family'] = ['Lato', 'DejaVu Sans']
plt.rcParams['mathtext.fontset'] = 'custom'
plt.rcParams['mathtext.rm'] = 'Lato'
plt.rcParams['mathtext.it'] = 'Lato:italic'
plt.rcParams['mathtext.bf'] = 'Lato:bold'


def fx(px):
    return px / FIG_W


def fy(py):
    return 1 - py / FIG_H


def draw_panel(fig, title, obs, regcm, new, ticks, lay):
    x0, x1, yt, yb = lay['box']
    s = lay['s']
    ax = fig.add_axes([fx(x0), fy(yb), (x1 - x0) / FIG_W, (yb - yt) / FIG_H])
    months = np.arange(len(obs))
    for name, vals in zip(SERIES_NAMES, (obs, regcm, new)):
        sns.lineplot(x=months, y=vals, ax=ax, color=COLORS[name], linewidth=1.5,
                     label=name, legend=False)

    ax.set_xlim(-0.5, len(obs) - 0.5)
    ax.set_ylim(0, 25)
    ax.set_yticks(range(0, 26, 5))
    ax.set_xticks(np.arange(3, len(obs), 6))
    ax.set_xticklabels(ticks, rotation=45, ha='right', rotation_mode='anchor',
                       fontsize=10.8 * s, fontweight='bold')
    for lbl in ax.get_yticklabels():
        lbl.set_fontsize(11 * s)
        lbl.set_fontweight('bold')
    ax.tick_params(axis='x', direction='out', length=4, width=0.8, color='#8c8c8c', pad=4)
    ax.tick_params(axis='y', direction='out', length=3, width=0.8, color='#8c8c8c', pad=3)
    ax.set_xlabel('')
    ax.set_ylabel('')
    for side in ('top', 'right'):
        ax.spines[side].set_visible(False)
    for side in ('left', 'bottom'):
        ax.spines[side].set_color('#8c8c8c')
        ax.spines[side].set_linewidth(0.9)

    tx, ty = lay['title']
    fig.text(fx(tx), fy(ty), title, ha='center', va='center',
             fontsize=10.5 * s, fontweight='bold')
    lx, ly = lay['legend']
    fig.legend(ax.get_lines()[:3], SERIES_NAMES, loc='center',
               bbox_to_anchor=(fx(lx), fy(ly)), ncol=3, frameon=False,
               handlelength=1.4, handletextpad=0.15, columnspacing=1.2,
               borderaxespad=0, borderpad=0,
               prop={'size': 10.2 * s, 'weight': 'bold'})
    ax_x, ax_y = lay['xlabel']
    fig.text(fx(ax_x), fy(ax_y), 'Time (Month)', ha='center', va='center',
             fontsize=11 * s, fontweight='bold')
    yx, yy = lay['ylabel']
    fig.text(fx(yx), fy(yy), r'$\mathbf{T_{min}}$ (C)', rotation=90, ha='center',
             va='center', fontsize=11 * s, fontweight='bold')
    return ax


fig = plt.figure(figsize=(FIG_W / 100, FIG_H / 100), dpi=100)
fig.patch.set_facecolor('white')

# table-like frame around the panels
FRAME = [
    ((10, 994), (10, 10)),
    ((10, 10), (10, 1345)),
    ((506, 506), (10, 1345)),
    ((10, 994), (284, 284)),
    ((10, 994), (550, 550)),
    ((10, 20), (803, 803)),
    ((495, 516), (803, 803)),
    ((10, 20), (1072, 1072)),
    ((495, 516), (1072, 1072)),
]
for xs, ys in FRAME:
    fig.add_artist(Line2D([fx(v) for v in xs], [fy(v) for v in ys],
                          color='#222222', linewidth=1.0))

for (title, obs, regcm, new, ticks), lay in zip(PANELS, LAYOUT):
    draw_panel(fig, title, obs, regcm, new, ticks, lay)

fig.savefig('out.png', dpi=100, facecolor='white')
